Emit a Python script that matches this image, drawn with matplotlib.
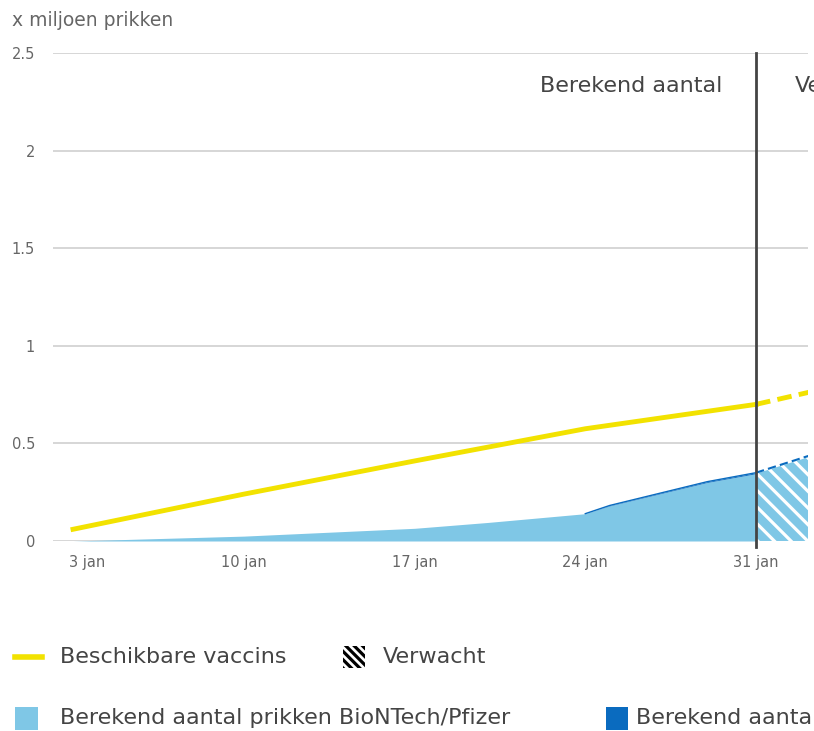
import matplotlib.pyplot as plt
import matplotlib.transforms as mtransforms
from matplotlib.patches import Rectangle
from matplotlib.lines import Line2D

plt.rcParams['font.family'] = ['DejaVu Sans']
plt.rcParams['hatch.linewidth'] = 2.3

# x = day in januari 2021 (38 = 7 feb, outside the visible range)
tick_days = [3, 10, 17, 24, 31]
tick_labels = ['3 jan', '10 jan', '17 jan', '24 jan', '31 jan']

# beschikbare vaccins (x miljoen)
vac_days = [3, 10, 17, 24, 31]
vac_values = [0.06, 0.24, 0.41, 0.575, 0.70]
vac_days_verw = [31, 38]
vac_values_verw = [0.70, 0.90]

# berekend aantal prikken (x miljoen)
prik_days = [3, 10, 17, 20, 24, 25, 27, 29, 31]
pfizer = [0.0, 0.025, 0.065, 0.095, 0.14, 0.18, 0.24, 0.30, 0.345]
moderna = [0.0, 0.0, 0.0, 0.0, 0.0, 0.002, 0.003, 0.004, 0.005]
prik_days_verw = [31, 38]
pfizer_verw = [0.345, 0.62]
moderna_verw = [0.005, 0.01]

yellow = '#f2e200'
light_blue = '#7fc7e6'
dark_blue = '#0a6bbf'
grey = '#666666'
text_col = '#444444'

fig = plt.figure(figsize=(8.14, 7.31), dpi=100)
ax = fig.add_axes([53 / 814, 1 - 541 / 731, (808 - 53) / 814, (541 - 53) / 731])

total = [p + m for p, m in zip(pfizer, moderna)]
total_verw = [p + m for p, m in zip(pfizer_verw, moderna_verw)]

# berekend
ax.fill_between(prik_days, 0, pfizer, color=light_blue, lw=0, zorder=2)
ax.fill_between(prik_days, pfizer, total, color=dark_blue, lw=0, zorder=2)
ax.plot(prik_days[4:], total[4:], color=dark_blue, lw=1, zorder=3)
# verwacht
ax.fill_between(prik_days_verw, 0, pfizer_verw, facecolor=light_blue, edgecolor='white',
                hatch='\\\\', lw=0, zorder=2)
ax.plot(prik_days_verw, total_verw, color=dark_blue, lw=1.5, ls=(0, (4, 2)), zorder=3)

ax.plot(vac_days, vac_values, color=yellow, lw=3.5, zorder=4)
ax.plot(vac_days_verw, vac_values_verw, color=yellow, lw=3.5, ls=(0, (3, 1.5)), zorder=4)

ax.plot([31, 31], [-0.03, 2.5], color='#444444', lw=2, zorder=5, clip_on=False)
ax.text(29.6, 2.33, 'Berekend aantal', ha='right', va='center', fontsize=16, color=text_col)
ax.text(32.6, 2.33, 'Verwacht', ha='left', va='center', fontsize=16, color=text_col,
        clip_on=False)

ax.set_xlim(2.18, 33.13)
ax.set_ylim(0, 2.5)
ax.set_yticks([0, 0.5, 1, 1.5, 2, 2.5])
ax.set_yticklabels(['0', '0.5', '1', '1.5', '2', '2.5'])
ax.set_xticks(tick_days)
ax.set_xticklabels(tick_labels)
ax.yaxis.grid(True, color='#d0d0d0', lw=1.2)
ax.set_axisbelow(True)
for s in ax.spines.values():
    s.set_visible(False)
ax.tick_params(length=0, labelsize=10.5, colors=grey)
ax.tick_params(axis='y', pad=13)
ax.tick_params(axis='x', pad=10)
# first date label sits a bit right of its tick
first = ax.get_xticklabels()[0]
first.set_transform(first.get_transform()
                    + mtransforms.ScaledTranslation(0.14, 0, fig.dpi_scale_trans))

fig.text(12 / 814, 1 - 20 / 731, 'x miljoen prikken', fontsize=13.5, color=grey, va='center')

# legend
def leg_y(py):
    return 1 - py / 731

fig.add_artist(Line2D([15 / 814, 42 / 814], [leg_y(657)] * 2, color=yellow, lw=4))
fig.text(60 / 814, leg_y(657), 'Beschikbare vaccins', fontsize=16, color=text_col, va='center')
fig.add_artist(Rectangle((343 / 814, leg_y(668)), 22 / 814, 22 / 731, facecolor='white',
                         edgecolor='black', hatch='\\\\\\\\', lw=0, transform=fig.transFigure))
fig.text(383 / 814, leg_y(657), 'Verwacht', fontsize=16, color=text_col, va='center')

fig.add_artist(Rectangle((15 / 814, leg_y(730)), 23 / 814, 23 / 731, facecolor=light_blue,
                         lw=0, transform=fig.transFigure))
fig.text(60 / 814, leg_y(718), 'Berekend aantal prikken BioNTech/Pfizer', fontsize=16,
         color=text_col, va='center')
fig.add_artist(Rectangle((606 / 814, leg_y(730)), 22 / 814, 23 / 731, facecolor=dark_blue,
                         lw=0, transform=fig.transFigure))
fig.text(636 / 814, leg_y(718), 'Berekend aantal prikken Moderna', fontsize=16,
         color=text_col, va='center')

fig.savefig('out.png', dpi=100)
